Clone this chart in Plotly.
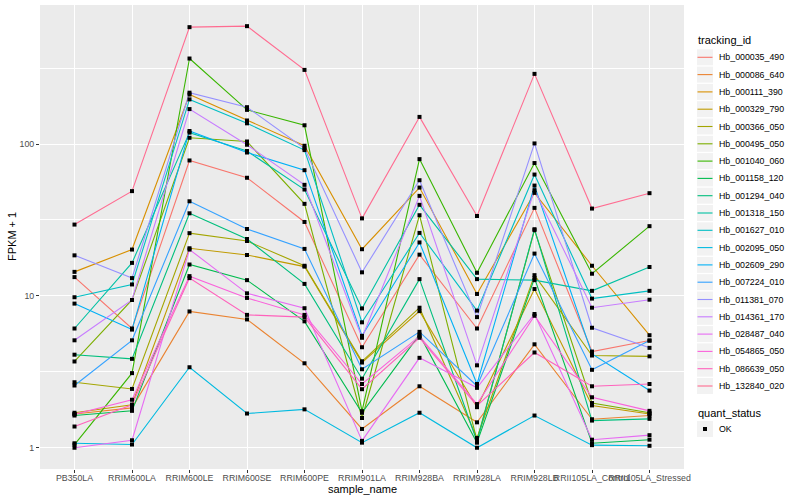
import plotly.graph_objects as go

samples = ["PB350LA", "RRIM600LA", "RRIM600LE", "RRIM600SE", "RRIM600PE", "RRIM901LA",
           "RRIM928BA", "RRIM928LA", "RRIM928LB", "RRII105LA_Control", "RRII105LA_Stressed"]

tracking_ids = ["Hb_000035_490", "Hb_000086_640", "Hb_000111_390", "Hb_000329_790",
                "Hb_000366_050", "Hb_000495_050", "Hb_001040_060", "Hb_001158_120",
                "Hb_001294_040", "Hb_001318_150", "Hb_001627_010", "Hb_002095_050",
                "Hb_002609_290", "Hb_007224_010", "Hb_011381_070", "Hb_014361_170",
                "Hb_028487_040", "Hb_054865_050", "Hb_086639_050", "Hb_132840_020"]

colors = ["#F8766D", "#EA8331", "#D89000", "#C09B00", "#A3A500", "#7CAE00", "#39B600",
          "#00BB4E", "#00BF7D", "#00C1A3", "#00BFC4", "#00BAE0", "#00B0F6", "#35A2FF",
          "#9590FF", "#C77CFF", "#E76BF3", "#FA62DB", "#FF62BC", "#FF6C91"]

# FPKM + 1 per tracking_id, in sample order
fpkm_000035_490 = [13.3, 6.1, 78, 60, 30.7, 4.59, 18.7, 6.1, 38, 4.3, 5.08]
fpkm_000086_640 = [1.67, 1.83, 7.9, 7.0, 3.6, 1.33, 2.54, 1.47, 4.8, 1.54, 1.63]
fpkm_000111_390 = [14.4, 20.2, 212, 143, 97.5, 20.3, 51.7, 10.3, 47.7, 15.8, 5.51]
fpkm_000329_790 = [1.70, 1.92, 20.6, 18.6, 15.6, 3.64, 7.94, 1.85, 11.1, 1.90, 1.67]
fpkm_000366_050 = [2.7, 2.44, 25.9, 23.0, 15.8, 3.71, 8.36, 1.16, 13.7, 4.05, 4.0]
fpkm_000495_050 = [3.7, 9.4, 110, 104, 40.4, 1.57, 34, 1.12, 27.1, 1.97, 1.70]
fpkm_001040_060 = [1.05, 3.1, 366, 168, 133, 1.74, 79.6, 14.2, 75, 14.0, 28.8]
fpkm_001158_120 = [1.63, 1.75, 16.1, 12.7, 6.8, 1.70, 5.56, 1.08, 13.1, 1.07, 1.13]
fpkm_001294_040 = [4.1, 3.85, 35, 23.7, 12.0, 2.85, 12.9, 1.10, 27.5, 1.51, 1.55]
fpkm_001318_150 = [6.1, 16.5, 119, 90, 50.2, 8.27, 39.8, 12.9, 12.7, 10.8, 15.5]
fpkm_001627_010 = [9.8, 11.9, 197, 137, 91.3, 6.7, 26, 8.0, 63, 9.6, 10.8]
fpkm_002095_050 = [1.07, 1.05, 3.39, 1.68, 1.79, 1.08, 1.70, 1.0, 1.63, 1.04, 1.03]
fpkm_002609_290 = [8.9, 6.0, 122, 88, 67.3, 5.46, 22.5, 2.63, 53.3, 4.15, 2.38]
fpkm_007224_010 = [2.57, 5.1, 42, 27.6, 20.4, 3.29, 5.8, 2.55, 19, 3.26, 5.08]
fpkm_011381_070 = [18.5, 13.1, 218, 175, 93.8, 14.3, 57.8, 7.25, 101, 6.17, 4.55]
fpkm_014361_170 = [5.1, 9.4, 170, 99, 53.9, 5.3, 45.6, 3.49, 49.7, 8.36, 9.44]
fpkm_028487_040 = [1.0, 1.12, 20.2, 10.4, 8.3, 1.11, 3.91, 2.48, 7.6, 1.13, 1.21]
fpkm_054865_050 = [1.66, 2.07, 13.5, 9.7, 7.5, 2.63, 5.43, 1.94, 7.4, 2.15, 1.75]
fpkm_086639_050 = [1.38, 1.92, 13.1, 7.5, 7.25, 2.43, 5.3, 1.89, 4.24, 2.54, 2.63]
fpkm_132840_020 = [29.5, 49, 589, 598, 308, 32.4, 151, 33.6, 290, 37.6, 47.5]

series_values = [fpkm_000035_490, fpkm_000086_640, fpkm_000111_390, fpkm_000329_790,
                 fpkm_000366_050, fpkm_000495_050, fpkm_001040_060, fpkm_001158_120,
                 fpkm_001294_040, fpkm_001318_150, fpkm_001627_010, fpkm_002095_050,
                 fpkm_002609_290, fpkm_007224_010, fpkm_011381_070, fpkm_014361_170,
                 fpkm_028487_040, fpkm_054865_050, fpkm_086639_050, fpkm_132840_020]

quant_status = ["OK"]

y_ticks = [1, 10, 100]
y_tick_labels = ["1", "10", "100"]

FONT = "Liberation Sans, Arial, sans-serif"

# panel in pixels
W, H = 800, 500
PL, PR, PT, PB = 40, 684, 5, 469


def px2x(px):
    return (px - PL) / (PR - PL)


def py2y(py):
    return (PB - py) / (PB - PT)


fig = go.Figure()

for name, vals, col in zip(tracking_ids, series_values, colors):
    fig.add_trace(go.Scatter(x=samples, y=vals, mode="lines", name=name,
                             line=dict(color=col, width=1.1), showlegend=False,
                             hoverinfo="skip"))

all_x, all_y = [], []
for vals in series_values:
    all_x += samples
    all_y += vals
fig.add_trace(go.Scatter(x=all_x, y=all_y, mode="markers", name=quant_status[0],
                         marker=dict(color="black", size=4, symbol="square"),
                         showlegend=False))

shapes = []
annotations = []

# legend: tracking_id
annotations.append(dict(xref="paper", yref="paper", x=px2x(696), y=py2y(40.5),
                        text="tracking_id", showarrow=False, xanchor="left", yanchor="middle",
                        font=dict(family=FONT, size=11, color="black")))
for i, (name, col) in enumerate(zip(tracking_ids, colors)):
    cy = 57.3 + i * 17.3
    shapes.append(dict(type="rect", xref="paper", yref="paper",
                       x0=px2x(697), x1=px2x(713), y0=py2y(cy - 8), y1=py2y(cy + 8),
                       fillcolor="#F2F2F2", line=dict(width=0), layer="above"))
    shapes.append(dict(type="line", xref="paper", yref="paper",
                       x0=px2x(697.5), x1=px2x(712.5), y0=py2y(cy), y1=py2y(cy),
                       line=dict(color=col, width=1.1), layer="above"))
    annotations.append(dict(xref="paper", yref="paper", x=px2x(716.5), y=py2y(cy),
                            text=name, showarrow=False, xanchor="left", yanchor="middle",
                            font=dict(family=FONT, size=8.8, color="black")))

# legend: quant_status
annotations.append(dict(xref="paper", yref="paper", x=px2x(696), y=py2y(412.5),
                        text="quant_status", showarrow=False, xanchor="left", yanchor="middle",
                        font=dict(family=FONT, size=11, color="black")))
cy = 429
shapes.append(dict(type="rect", xref="paper", yref="paper",
                   x0=px2x(697), x1=px2x(713), y0=py2y(cy - 8), y1=py2y(cy + 8),
                   fillcolor="#F2F2F2", line=dict(width=0), layer="above"))
shapes.append(dict(type="rect", xref="paper", yref="paper",
                   x0=px2x(703), x1=px2x(707), y0=py2y(cy - 2), y1=py2y(cy + 2),
                   fillcolor="black", line=dict(width=0), layer="above"))
annotations.append(dict(xref="paper", yref="paper", x=px2x(716.5), y=py2y(cy),
                        text=quant_status[0], showarrow=False, xanchor="left", yanchor="middle",
                        font=dict(family=FONT, size=8.8, color="black")))

# axis titles
annotations.append(dict(xref="paper", yref="paper", x=0.5, y=py2y(489),
                        text="sample_name", showarrow=False, xanchor="center", yanchor="middle",
                        font=dict(family=FONT, size=11, color="black")))
annotations.append(dict(xref="paper", yref="paper", x=px2x(12), y=0.5,
                        text="FPKM + 1", showarrow=False, xanchor="center", yanchor="middle",
                        textangle=-90, font=dict(family=FONT, size=11, color="black")))

fig.update_layout(
    width=W, height=H,
    margin=dict(l=PL, r=W - PR, t=PT, b=H - PB, pad=0),
    paper_bgcolor="white", plot_bgcolor="#EBEBEB",
    showlegend=False,
    shapes=shapes, annotations=annotations,
    font=dict(family=FONT),
    xaxis=dict(type="category", categoryorder="array", categoryarray=samples,
               range=[-0.6, len(samples) - 0.4], showgrid=True, gridcolor="white", gridwidth=1.1,
               zeroline=False, showline=False, ticks="outside", ticklen=3, tickwidth=1,
               tickcolor="#333333", tickangle=0, automargin=False, ticklabelstandoff=-3,
               tickfont=dict(family=FONT, size=8.8, color="#4D4D4D")),
    yaxis=dict(type="log", range=[-0.14, 2.916], tickvals=y_ticks, ticktext=y_tick_labels,
               showgrid=True, gridcolor="white", gridwidth=1.1, zeroline=False, showline=False,
               ticks="outside", ticklen=3, tickwidth=1, tickcolor="#333333", automargin=False,
               tickfont=dict(family=FONT, size=8.8, color="#4D4D4D"),
               minor=dict(tickvals=[10 ** 0.5, 10 ** 1.5, 10 ** 2.5], showgrid=True,
                          gridcolor="white", gridwidth=0.55, ticks="")),
)

fig.write_html("out.html", config={"displayModeBar": False},
               post_script="document.body.style.margin='0px';document.body.style.padding='0px';")
